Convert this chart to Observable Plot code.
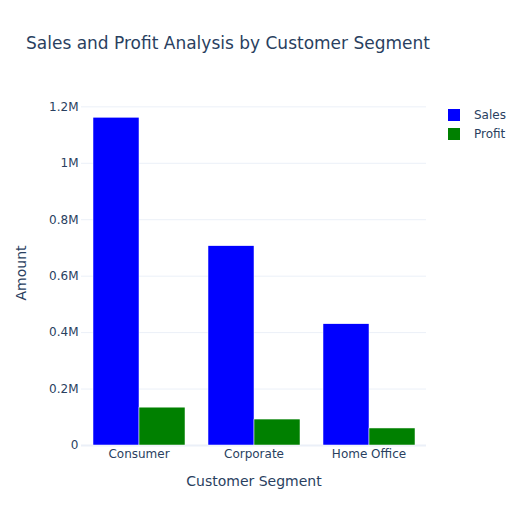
<!DOCTYPE html>
<html>
<head>
<meta charset="utf-8">
<script src="https://cdn.jsdelivr.net/npm/d3@7"></script>
<script src="https://cdn.jsdelivr.net/npm/@observablehq/plot@0.6"></script>
<style>
  html, body { margin: 0; padding: 0; background: #fff; }
  #wrap { position: relative; width: 521px; height: 525px; font-family: "DejaVu Sans", verdana, arial, sans-serif; color: #2a3f5f; }
  #title { position: absolute; left: 26px; top: 33px; font-size: 17px; white-space: nowrap; }
  #legend { position: absolute; left: 448px; top: 105px; font-size: 12px; }
  .item { display: flex; align-items: center; height: 19px; }
  .sw { width: 12px; height: 12px; margin-right: 14px; }
  svg [aria-label="y-axis label"] text, svg [aria-label="fx-axis label"] text { font-size: 14px; }
</style>
</head>
<body>
<div id="wrap">
  <div id="chart"></div>
  <div id="title">Sales and Profit Analysis by Customer Segment</div>
  <div id="legend"></div>
</div>
<script>
const segments = ["Consumer", "Corporate", "Home Office"];
const series = ["Sales", "Profit"];
const sales = [1161401, 706146, 429653];
const profit = [134119, 91979, 60299];
const colors = ["#0000ff", "#008000"];
const yTicks = [0, 200000, 400000, 600000, 800000, 1000000, 1200000];
const yTickLabels = ["0", "0.2M", "0.4M", "0.6M", "0.8M", "1M", "1.2M"];

const data = [];
segments.forEach((s, i) => {
  data.push({segment: s, series: "Sales", value: sales[i]});
  data.push({segment: s, series: "Profit", value: profit[i]});
});

const chart = Plot.plot({
  width: 521,
  height: 525,
  marginLeft: 80,
  marginRight: 94,
  marginTop: 100,
  marginBottom: 80,
  style: {fontFamily: '"DejaVu Sans", verdana, arial, sans-serif', fontSize: "12px", color: "#2a3f5f", background: "transparent"},
  fx: {domain: segments, padding: 0, label: "Customer Segment", labelAnchor: "center", labelArrow: "none", tickSize: 0, tickPadding: 4, labelOffset: 40},
  x: {domain: series, axis: null, paddingInner: 0, paddingOuter: 0.25},
  y: {domain: [0, 1222500], ticks: yTicks, tickFormat: d => yTickLabels[yTicks.indexOf(d)], tickSize: 0, tickPadding: 3, label: "Amount", labelArrow: "none", labelAnchor: "center", labelOffset: 65},
  color: {domain: series, range: colors},
  marks: [
    Plot.gridY(yTicks, {stroke: "#ebf0f8", strokeOpacity: 1, strokeWidth: 1}),
    Plot.ruleY([0], {stroke: "#ebf0f8", strokeWidth: 2}),
    Plot.barY(data, {fx: "segment", x: "series", y: "value", fill: "series", stroke: "white", strokeWidth: 0.5, inset: 0})
  ]
});
document.getElementById("chart").appendChild(chart);

const legend = document.getElementById("legend");
series.forEach((s, i) => {
  const it = document.createElement("div");
  it.className = "item";
  const sw = document.createElement("div");
  sw.className = "sw";
  sw.style.background = colors[i];
  const t = document.createElement("span");
  t.textContent = s;
  it.appendChild(sw); it.appendChild(t);
  legend.appendChild(it);
});
</script>
</body>
</html>
